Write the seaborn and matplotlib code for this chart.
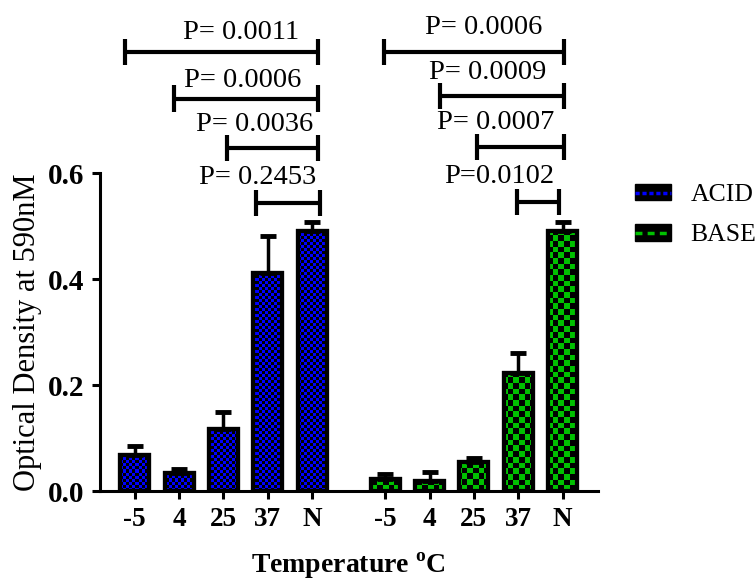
import numpy as np
import pandas as pd
import seaborn as sns
import matplotlib.pyplot as plt
from matplotlib.lines import Line2D
from matplotlib.patches import Patch, Rectangle
from matplotlib.legend_handler import HandlerTuple

# Data (mean OD, upper error)
temps = ['-5', '4', '25', '37', 'N']
acid_od = [0.068, 0.034, 0.118, 0.413, 0.492]
acid_err = [0.017, 0.009, 0.031, 0.069, 0.016]
base_od = [0.023, 0.019, 0.055, 0.224, 0.492]
base_err = [0.010, 0.017, 0.008, 0.038, 0.016]

acid_p = ['P= 0.0011', 'P= 0.0006', 'P= 0.0036', 'P= 0.2453']
base_p = ['P= 0.0006', 'P= 0.0009', 'P= 0.0007', 'P=0.0102']

# bracket layout (x start, x end, y) and label spots, in data units
acid_brackets = [(-0.23, 4.13, 0.829), (0.88, 4.13, 0.741), (2.09, 4.13, 0.648), (2.74, 4.17, 0.544)]
acid_text = [(2.40, 0.865), (2.43, 0.776), (2.70, 0.692), (2.77, 0.592)]
base_brackets = [(5.62, 9.68, 0.829), (6.89, 9.68, 0.746), (7.71, 9.68, 0.650), (8.62, 9.57, 0.546)]
base_text = [(7.87, 0.876), (7.96, 0.790), (8.14, 0.697), (8.21, 0.595)]

gap = 5.65
blue = '#0000ff'
green = '#00c000'

sns.set_style('ticks')
plt.rcParams['font.family'] = ['Liberation Serif', 'DejaVu Serif']
plt.rcParams['mathtext.fontset'] = 'custom'
plt.rcParams['mathtext.rm'] = 'Liberation Serif'
plt.rcParams['mathtext.bf'] = 'Liberation Serif:bold'
plt.rcParams['text.color'] = 'black'
plt.rcParams['axes.labelcolor'] = 'black'
plt.rcParams['xtick.color'] = 'black'
plt.rcParams['ytick.color'] = 'black'

pos = np.r_[np.arange(5), np.arange(5) + gap]
df = pd.DataFrame({'pos': pos,
                   'od': acid_od + base_od,
                   'group': ['ACID'] * 5 + ['BASE'] * 5})

fig = plt.figure(figsize=(7.56, 5.83), dpi=100)
ax = fig.add_axes([0.132, 0.157, 0.659, 0.5455])

sns.barplot(data=df, x='pos', y='od', hue='group', native_scale=True, dodge=False,
            width=0.65, palette={'ACID': blue, 'BASE': green}, errorbar=None,
            edgecolor='black', linewidth=3, legend=False, ax=ax)

xlim = (-0.79, 10.45)
ylim = (0, 0.6)

# checkered fill, clipped to each bar
def checker(nx, ny, color):
    rgb = np.array(plt.matplotlib.colors.to_rgb(color))
    mask = np.add.outer(np.arange(ny), np.arange(nx)) % 2
    img = np.where(mask[..., None] == 0, rgb, 0.0)
    return img

acid_img = checker(166, 106, blue)
base_img = checker(88, 56, green)
bars = list(ax.patches)
for p in bars:
    fc = p.get_facecolor()
    img = acid_img if fc[2] > 0.5 else base_img
    im = ax.imshow(img, extent=(xlim[0], xlim[1], ylim[0], ylim[1]), aspect='auto',
                   interpolation='nearest', origin='lower', zorder=1.5)
    im.set_clip_path(p)
    ax.add_patch(Rectangle(p.get_xy(), p.get_width(), p.get_height(), fill=False,
                           ec='black', lw=3, zorder=2))

ax.errorbar(pos, acid_od + base_od, yerr=[np.zeros(10), acid_err + base_err], fmt='none',
            ecolor='black', elinewidth=2.5, capsize=5.5, capthick=3.5, zorder=3)

# significance brackets
h = 0.025
for (x1, x2, y), (tx, ty), lab in zip(acid_brackets + base_brackets, acid_text + base_text,
                                     acid_p + base_p):
    ax.plot([x1, x2], [y, y], color='black', lw=3, clip_on=False, solid_capstyle='butt')
    ax.vlines([x1, x2], y - h, y + h, color='black', lw=3, clip_on=False)
    ax.text(tx, ty, lab, ha='center', va='center', fontsize=20.5, clip_on=False)

ax.set_xlim(*xlim)
ax.set_ylim(*ylim)
ax.set_yticks([0, 0.2, 0.4, 0.6], labels=['0.0', '0.2', '0.4', '0.6'],
              fontweight='bold', fontsize=21)
ax.set_xticks(pos, labels=temps * 2, fontweight='bold', fontsize=19.5)
ax.tick_params(axis='both', length=6, width=2.2, color='black', labelcolor='black', pad=5)
for s in ['left', 'bottom']:
    ax.spines[s].set_linewidth(2.2)
    ax.spines[s].set_color('black')
sns.despine(ax=ax)

ax.set_ylabel('Optical Density at 590nM', fontsize=22, labelpad=4)
ax.set_xlabel(r'Temperature $^{\mathbf{o}}$C', fontsize=20, fontweight='bold', labelpad=14)

handles = [(Patch(facecolor='black', edgecolor='black'),
            Line2D([], [], color=blue, lw=2.5, ls=(0, (1.2, 0.8)))),
           (Patch(facecolor='black', edgecolor='black'),
            Line2D([], [], color=green, lw=2.5, ls=(0, (2, 1.5))))]
fig.legend(handles, ['ACID', 'BASE'], handler_map={tuple: HandlerTuple(ndivide=1)},
           loc='upper left', bbox_to_anchor=(0.81, 0.724), frameon=False, fontsize=18.5,
           handlelength=1.4, handleheight=0.6, labelspacing=0.7, handletextpad=0.75)

fig.savefig('out.png', dpi=100)
